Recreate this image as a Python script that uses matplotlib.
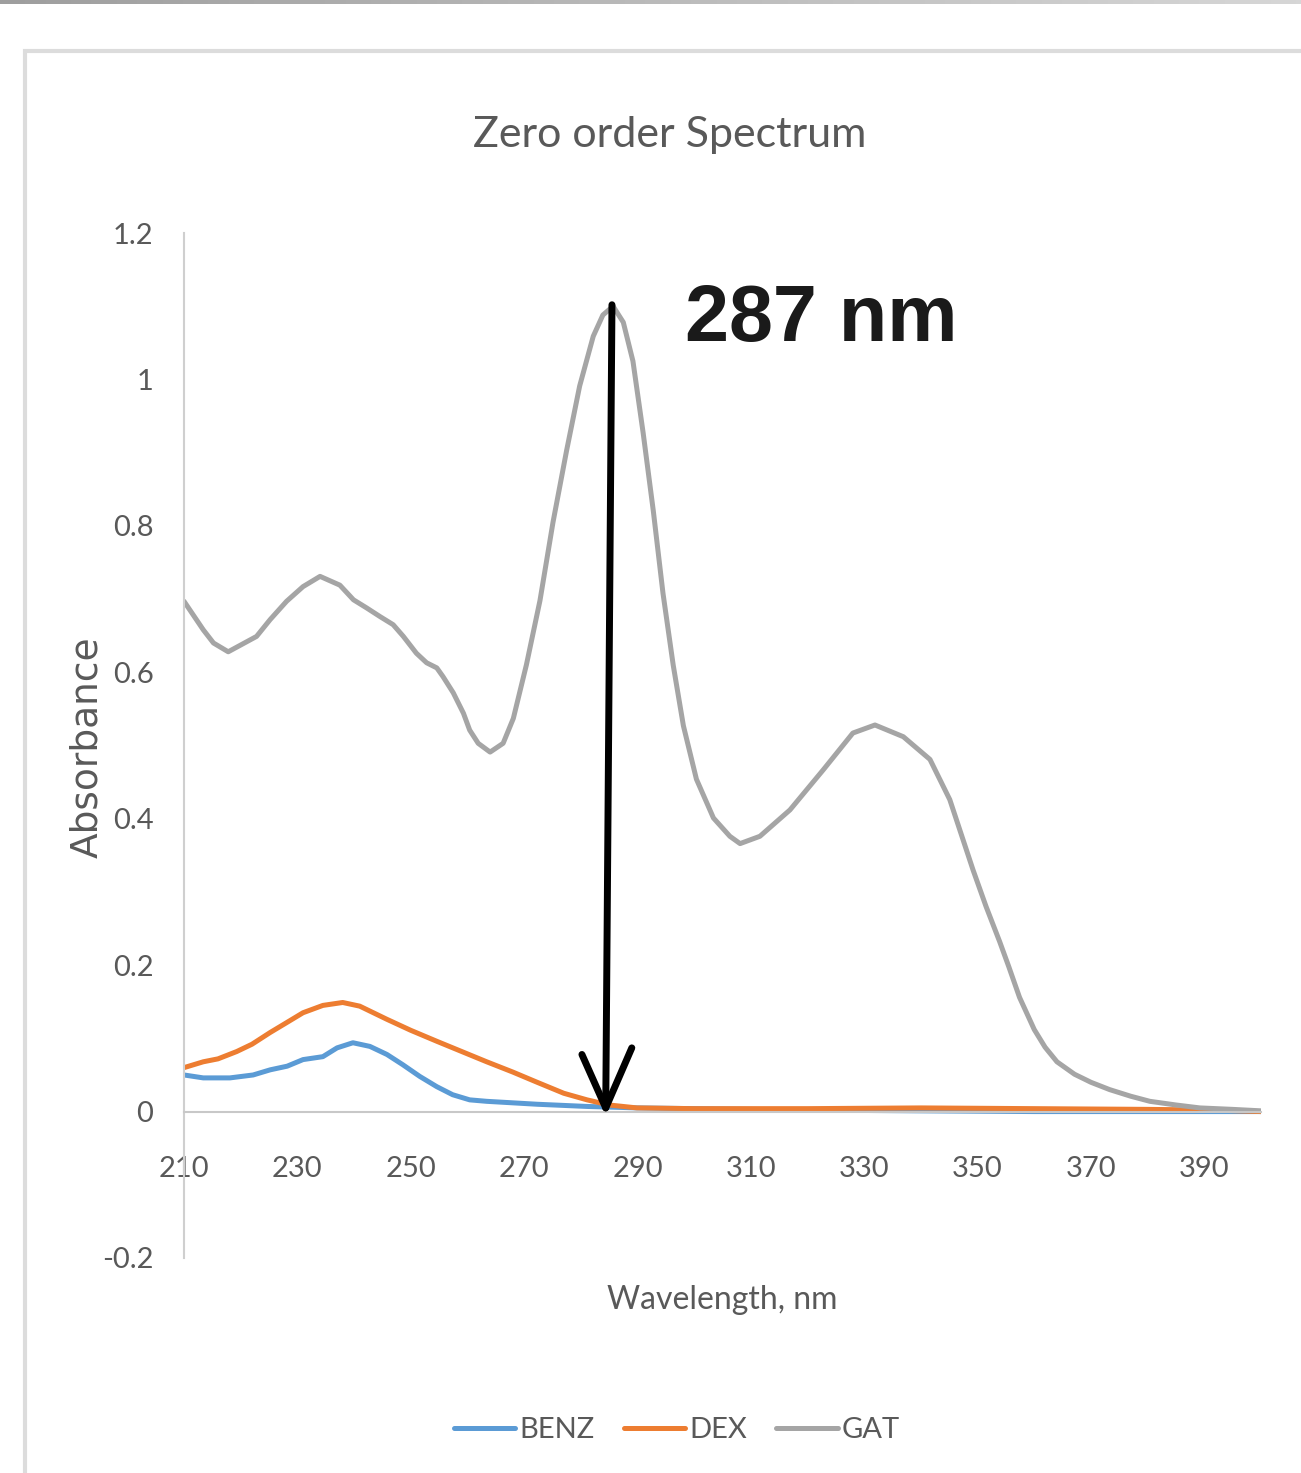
import numpy as np
import matplotlib
matplotlib.use("Agg")
import matplotlib.pyplot as plt
from matplotlib.patches import Rectangle

# values (wavelength in nm, absorbance)
BENZ_NM = [210, 213.4, 218.1, 222.2, 225.2, 228.2, 231, 234.5, 237, 239.8, 242.8, 245.8,
           248.6, 251.6, 254.6, 257.4, 260.4, 263.4, 272.3, 281.1, 290, 300, 320, 340, 360, 400]
BENZ_ABS = [0.050, 0.046, 0.046, 0.050, 0.057, 0.062, 0.071, 0.075, 0.087, 0.094, 0.089, 0.078,
            0.064, 0.048, 0.034, 0.023, 0.016, 0.014, 0.010, 0.007, 0.005, 0.004, 0.002, 0.001, 0.0, 0.0]

DEX_NM = [210, 213.4, 216, 219.3, 222, 225.2, 228, 231, 234.5, 238, 241, 245.8, 250, 254.6,
          259, 263.4, 268, 272.3, 277, 281.1, 285, 289.9, 300, 320, 340, 360, 380, 392, 400]
DEX_ABS = [0.060, 0.068, 0.072, 0.082, 0.092, 0.108, 0.121, 0.135, 0.145, 0.149, 0.144, 0.126,
           0.111, 0.096, 0.082, 0.068, 0.054, 0.040, 0.025, 0.016, 0.009, 0.005, 0.004, 0.004,
           0.005, 0.004, 0.003, 0.002, 0.0]

GAT_NM = [210, 213.4, 215.2, 217.8, 222.8, 225.2, 228.1, 231.0, 234.0, 237.5, 239.9, 242.2,
          244.6, 246.9, 248.7, 251.0, 252.8, 254.6, 255.7, 257.5, 259.3, 260.4, 261.9, 264.0,
          266.3, 268.1, 270.4, 272.8, 275.1, 277.5, 279.8, 282.2, 283.9, 285.7, 287.5, 289.2,
          291.0, 292.8, 294.5, 296.3, 298.1, 300.4, 303.4, 306.3, 308.1, 311.6, 316.9, 322.8,
          328.0, 331.9, 336.9, 341.6, 345.1, 349.2, 351.5, 353.9, 355.5, 357.4, 360.0, 361.9,
          364.0, 367.1, 370.0, 373.3, 377.0, 380.4, 385.0, 389.2, 395.0, 400]
GAT_ABS = [0.697, 0.658, 0.640, 0.628, 0.649, 0.672, 0.697, 0.717, 0.731, 0.719, 0.699, 0.688,
           0.676, 0.665, 0.649, 0.626, 0.613, 0.606, 0.594, 0.572, 0.544, 0.521, 0.503, 0.491,
           0.503, 0.537, 0.610, 0.698, 0.805, 0.903, 0.991, 1.059, 1.088, 1.100, 1.078, 1.025,
           0.927, 0.820, 0.708, 0.610, 0.527, 0.454, 0.401, 0.376, 0.366, 0.376, 0.412, 0.467,
           0.517, 0.528, 0.512, 0.481, 0.426, 0.330, 0.280, 0.232, 0.198, 0.156, 0.112, 0.088,
           0.068, 0.051, 0.040, 0.030, 0.021, 0.014, 0.009, 0.005, 0.003, 0.001]

SERIES = [
    ("BENZ", BENZ_NM, BENZ_ABS, "#5B9BD5"),
    ("DEX", DEX_NM, DEX_ABS, "#ED7D31"),
    ("GAT", GAT_NM, GAT_ABS, "#A5A5A5"),
]

X_TICKS = [210, 230, 250, 270, 290, 310, 330, 350, 370, 390]
Y_TICKS = [-0.2, 0, 0.2, 0.4, 0.6, 0.8, 1, 1.2]

PEAK_LABEL = "287 nm"
# arrow marking the peak, in data units
ARROW_TOP = (285.5, 1.102)
ARROW_TIP = (284.4, 0.005)
ARROW_LEFT = (280.2, 0.078)
ARROW_RIGHT = (289.0, 0.087)

SOFT = ["Lato", "DejaVu Sans"]
TEXT_GREY = "#595959"

W, H = 1301, 1473
fig = plt.figure(figsize=(W / 100, H / 100), dpi=100)
fig.patch.set_facecolor("white")

# grey strip at the top of the screenshot
strip = fig.add_axes([0, 1 - 4 / H, 1, 4 / H])
grad = np.linspace(0.62, 0.84, 256)
strip.imshow(np.dstack([grad, grad, grad]).repeat(2, axis=0), aspect="auto")
strip.axis("off")

# chart frame
fig.add_artist(Rectangle((25 / W, -0.01), 1.0, 1 - 51 / H + 0.01, transform=fig.transFigure,
                         fill=False, edgecolor="#dcdcdc", linewidth=3))

ax = fig.add_axes([184 / W, 1 - 1258 / H, (1261 - 184) / W, (1258 - 233) / H])

for name, xs, ys, color in SERIES:
    ax.plot(xs, ys, color=color, linewidth=3.6, label=name,
            solid_capstyle="round", solid_joinstyle="round")

ax.set_xlim(210, 400)
ax.set_ylim(-0.2, 1.2)

for side in ("top", "right"):
    ax.spines[side].set_visible(False)
ax.spines["left"].set_color("#cfcfcf")
ax.spines["left"].set_linewidth(1.5)
ax.spines["bottom"].set_position(("data", 0))
ax.spines["bottom"].set_color("#c8c8c8")
ax.spines["bottom"].set_linewidth(1.5)

ax.set_xticks(X_TICKS)
ax.set_xticklabels([str(v) for v in X_TICKS])
ax.set_yticks(Y_TICKS)
ax.set_yticklabels([f"{v:g}" for v in Y_TICKS])
ax.tick_params(axis="x", length=0, pad=32, labelsize=21, labelcolor=TEXT_GREY)
ax.tick_params(axis="y", length=0, pad=22, labelsize=21, labelcolor=TEXT_GREY)
for lab in ax.get_xticklabels() + ax.get_yticklabels():
    lab.set_family(SOFT)

# peak arrow
ax.plot([ARROW_TOP[0], ARROW_TIP[0]], [ARROW_TOP[1], ARROW_TIP[1]], color="black",
        linewidth=5, solid_capstyle="round", zorder=5)
ax.plot([ARROW_LEFT[0], ARROW_TIP[0], ARROW_RIGHT[0]], [ARROW_LEFT[1], ARROW_TIP[1], ARROW_RIGHT[1]],
        color="black", linewidth=5, solid_capstyle="round", solid_joinstyle="round", zorder=5)
ax.text(298.4, 1.081, PEAK_LABEL, ha="left", va="center", fontsize=57, fontweight="bold",
        family=["Liberation Sans", "DejaVu Sans"], color="#1a1a1a")

fig.text(670 / W, 1 - 135 / H, "Zero order Spectrum", ha="center", va="center",
         fontsize=31, family=SOFT, color=TEXT_GREY)
fig.text(722 / W, 1 - 1300 / H, "Wavelength, nm", ha="center", va="center",
         fontsize=23, family=SOFT, color=TEXT_GREY)
fig.text(87 / W, 1 - 747 / H, "Absorbance", ha="center", va="center", rotation=90,
         fontsize=27, family=["DejaVu Sans"], color=TEXT_GREY)

leg = fig.legend(loc="center", bbox_to_anchor=(677 / W, 1 - 1430 / H), ncol=3, frameon=False,
                 prop={"family": SOFT, "size": 21}, handlelength=2.1, handletextpad=0.15,
                 columnspacing=1.0)
for text in leg.get_texts():
    text.set_color(TEXT_GREY)

fig.savefig("out.png", dpi=100)
